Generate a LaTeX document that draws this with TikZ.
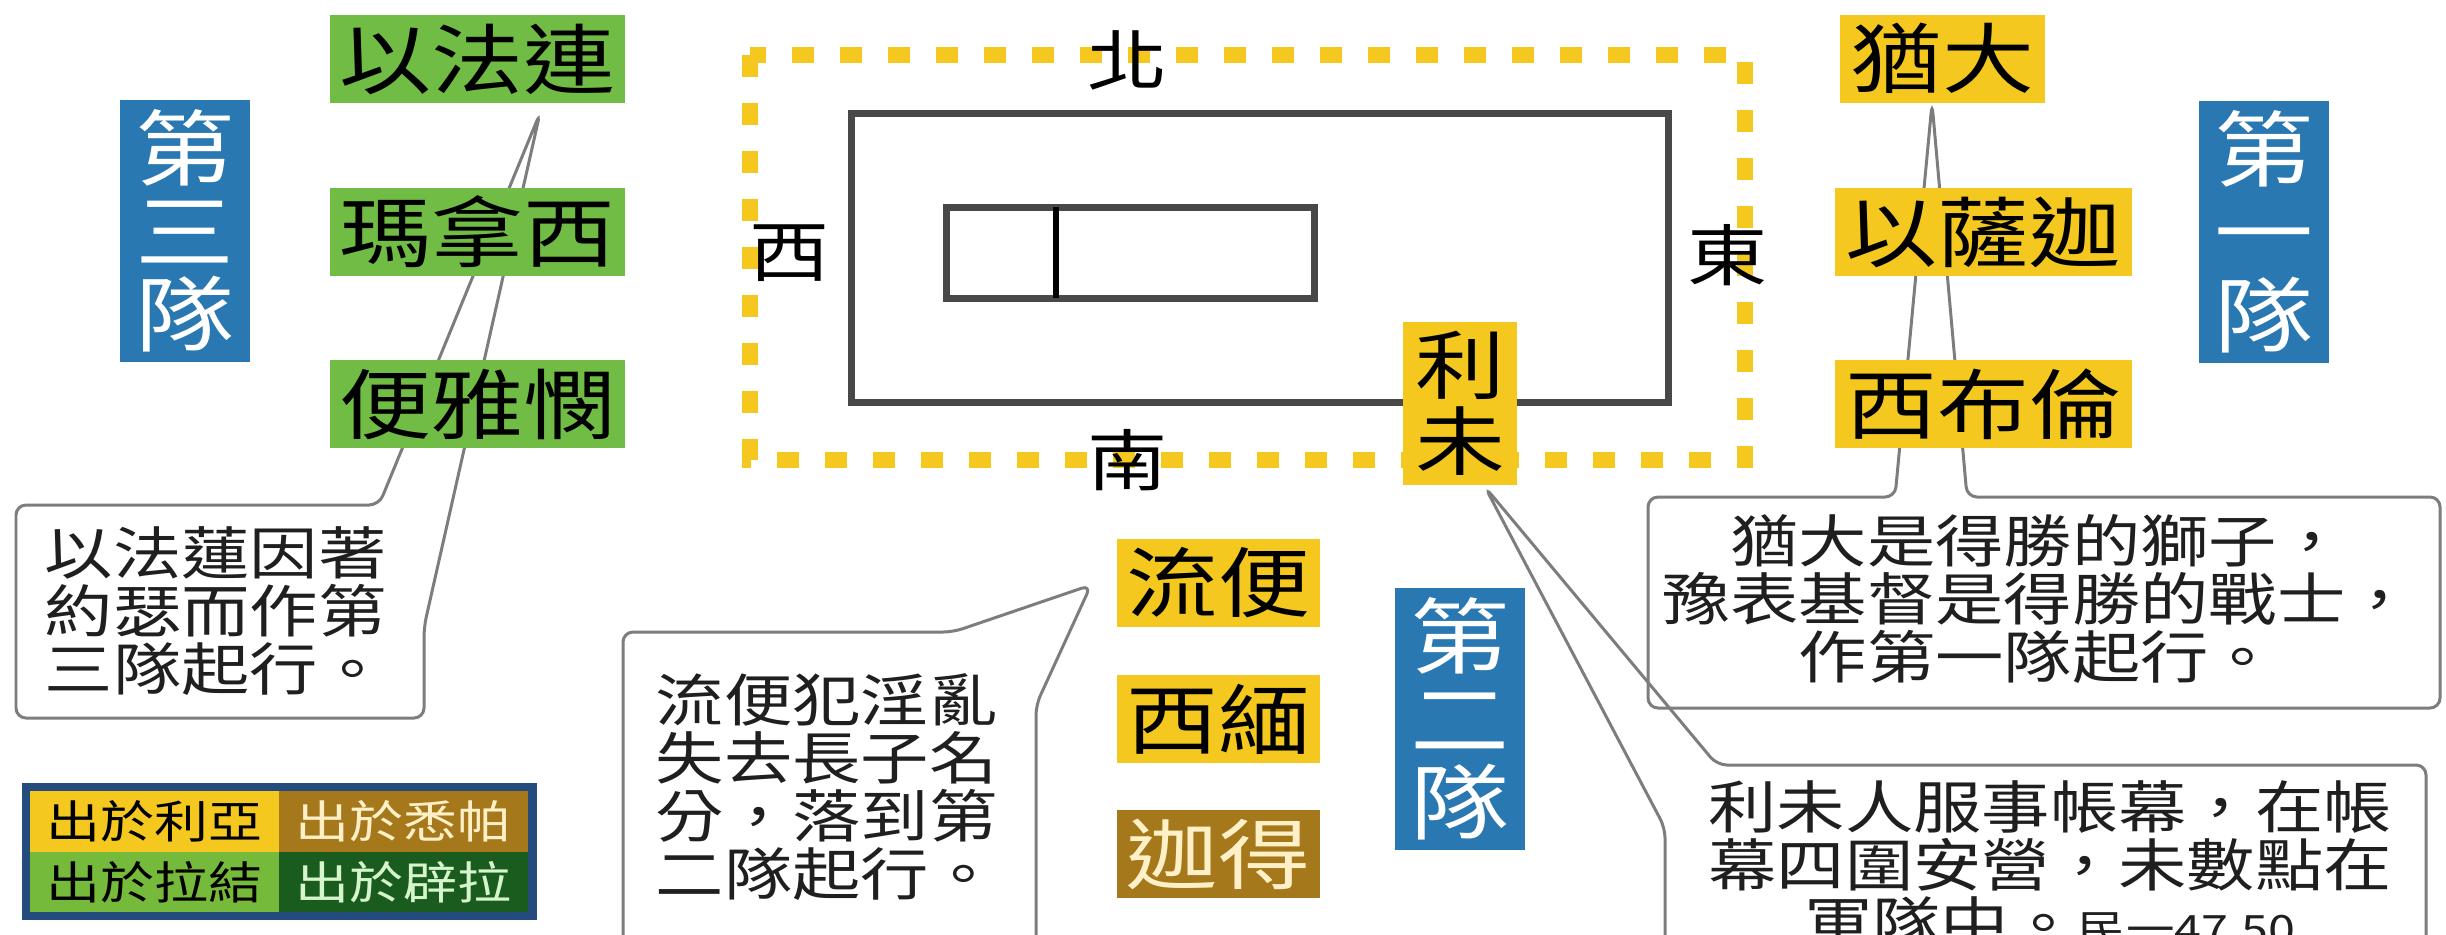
\documentclass[tikz,border=0pt]{standalone}
\usepackage{fontspec}
\setmainfont{Noto Sans CJK TC}[FakeStretch=1.2]
\usetikzlibrary{calc}

\definecolor{tribeyellow}{RGB}{244,200,30}
\definecolor{tribegreen}{RGB}{112,188,68}
\definecolor{tribebrown}{RGB}{166,120,28}
\definecolor{teamblue}{RGB}{42,120,178}
\definecolor{legendblue}{RGB}{35,75,125}
\definecolor{legendgreen}{RGB}{118,186,60}
\definecolor{legenddark}{RGB}{25,92,30}
\definecolor{creamtext}{RGB}{255,240,200}
\definecolor{minttext}{RGB}{215,245,205}
\definecolor{tentgray}{RGB}{72,72,72}
\definecolor{calloutgray}{RGB}{125,125,125}

\begin{document}
\begin{tikzpicture}[x=1cm,y=-1cm,
    tribe/.style={inner sep=0pt, minimum height=0.88cm, font=\fontsize{21.8}{25}\selectfont},
    team/.style={fill=teamblue, text=white, inner sep=0pt, minimum width=1.3cm,
                 minimum height=2.62cm, align=center, font=\fontsize{23.5}{23.6}\selectfont},
    compass/.style={inner sep=0pt, font=\fontsize{19}{20}\selectfont},
    yard/.style={draw=tribeyellow, line width=4.8pt, dash pattern=on 0.22cm off 0.26cm},
    tent/.style={draw=tentgray, line width=2pt},
    callout/.style={draw=calloutgray, line width=0.85pt, rounded corners=0.1cm},
    note/.style={inner sep=0pt, text=black!88, font=\fontsize{16.2}{16.5}\selectfont},
    cell/.style={inner sep=0pt, minimum width=2.49cm, minimum height=0.605cm,
                 font=\fontsize{12.8}{14}\selectfont}]

    \useasboundingbox (0,0) rectangle (24.46,9.34);
    \clip (0,0) rectangle (24.46,9.34);

    % Court and tabernacle
    \draw[yard] (7.50,0.55) rectangle (17.45,4.60);
    \draw[tent] (8.51,1.13) rectangle (16.68,4.02);
    \draw[tent] (9.46,2.07) rectangle (13.14,2.98);
    \draw[line width=1.5pt,black] (10.56,2.07) -- (10.56,2.98);

    % Tips of the callouts
    \coordinate (tipL) at (5.40,1.13);
    \coordinate (tipM) at (10.91,5.85);
    \coordinate (tipR) at (19.32,1.03);
    \coordinate (tipLevi) at (14.85,4.87);

    % Callouts
    \draw[callout,fill=white] (3.79,5.05) -- (0.16,5.05) -- (0.16,7.18) -- (4.24,7.18)
        -- (4.24,6.27) -- (tipL) -- cycle;
    \draw[callout,fill=white] (9.53,6.32) -- (6.23,6.32) -- (6.23,9.60) -- (10.36,9.60)
        -- (10.36,7.05) -- (tipM) -- cycle;
    \draw[callout,fill=white] (18.95,4.97) -- (16.48,4.97) -- (16.48,7.08) -- (24.40,7.08)
        -- (24.40,4.97) -- (19.67,4.97) -- (tipR) -- cycle;
    \draw[callout] (17.17,7.65) -- (24.26,7.65) -- (24.26,9.60) -- (16.65,9.60)
        -- (16.65,8.28) -- (tipLevi) -- cycle;

    \node[note, align=left, anchor=west] (noteL) at (0.44,6.11) {以法蓮因著\\約瑟而作第\\三隊起行。};
    \node[note, align=left, anchor=west] (noteM) at (6.55,7.87) {流便犯淫亂\\失去長子名\\分，落到第\\二隊起行。};
    \node[note, align=center] (noteR) at (20.38,5.99) {猶大是得勝的獅子，\\豫表基督是得勝的戰士，\\作第一隊起行。};
    \node[note, align=center] (noteLevi) at (20.50,8.66) {利未人服事帳幕，在帳\\幕四圍安營，未數點在\\軍隊中。{\fontsize{11.5}{16.5}\selectfont 民一47,50}};

    % Third camp
    \node[team] (camp3) at (1.85,2.31) {第\\三\\隊};
    \node[tribe, fill=tribegreen, minimum width=2.95cm] (ephraim) at (4.775,0.59) {以法連};
    \node[tribe, fill=tribegreen, minimum width=2.95cm] (manasseh) at (4.775,2.32) {瑪拿西};
    \node[tribe, fill=tribegreen, minimum width=2.95cm] (benjamin) at (4.775,4.04) {便雅憫};

    % First camp
    \node[tribe, fill=tribeyellow, minimum width=2.05cm] (judah) at (19.42,0.585) {猶大};
    \node[tribe, fill=tribeyellow, minimum width=2.97cm] (issachar) at (19.835,2.32) {以薩迦};
    \node[tribe, fill=tribeyellow, minimum width=2.97cm] (zebulun) at (19.835,4.04) {西布倫};
    \node[team] (camp1) at (22.64,2.32) {第\\一\\隊};

    % Second camp
    \node[tribe, fill=tribeyellow, minimum width=2.03cm] (reuben) at (12.185,5.825) {流便};
    \node[tribe, fill=tribeyellow, minimum width=2.03cm] (simeon) at (12.185,7.19) {西緬};
    \node[tribe, fill=tribebrown, text=creamtext, minimum width=2.03cm] (gad) at (12.185,8.54) {迦得};
    \node[team] (camp2) at (14.60,7.19) {第\\二\\隊};

    % Levites
    \node[tribe, fill=tribeyellow, minimum width=1.14cm, minimum height=1.63cm,
          align=center, font=\fontsize{21.3}{21.6}\selectfont] (levi) at (14.60,4.035) {利\\未};

    % Compass
    \node[compass] (north) at (11.28,0.60) {北};
    \node[compass] (south) at (11.28,4.60) {南};
    \node[compass] (west) at (7.90,2.53) {西};
    \node[compass] (east) at (17.28,2.55) {東};

    % Legend
    \fill[legendblue] (0.22,7.83) rectangle (5.37,9.20);
    \node[cell, fill=tribeyellow] (leah) at (1.545,8.2125) {出於利亞};
    \node[cell, fill=tribebrown, text=creamtext] (zilpah) at (4.035,8.2125) {出於悉帕};
    \node[cell, fill=legendgreen] (rachel) at (1.545,8.8175) {出於拉結};
    \node[cell, fill=legenddark, text=minttext] (bilhah) at (4.035,8.8175) {出於辟拉};
\end{tikzpicture}
\end{document}
